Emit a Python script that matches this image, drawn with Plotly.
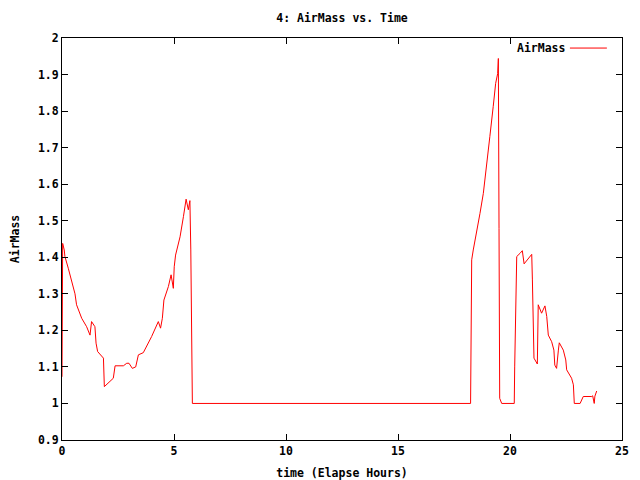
import plotly.graph_objects as go

time_hours = [0.0, 0.01, 0.03, 0.10, 0.13, 0.28, 0.43, 0.58, 0.65, 0.88, 1.10, 1.25, 1.32, 1.47, 1.52, 1.59,
              1.85, 1.87, 1.89, 2.29, 2.37, 2.74, 2.89, 2.99, 3.14, 3.29, 3.41, 3.63, 4.0, 4.30, 4.40, 4.48,
              4.55, 4.75, 4.87, 4.97, 5.01, 5.07, 5.27, 5.42, 5.54, 5.64, 5.71, 5.75, 5.79, 5.82,
              18.24, 18.25, 18.29, 18.36, 18.51, 18.66, 18.81, 18.96, 19.10, 19.25, 19.36, 19.45, 19.48,
              19.51, 19.54, 19.63, 20.19, 20.21, 20.25, 20.30, 20.45, 20.55, 20.63, 20.89, 20.97, 21.00,
              21.04, 21.07, 21.22, 21.23, 21.26, 21.41, 21.56, 21.64, 21.71, 21.86, 21.96, 22.00, 22.08,
              22.16, 22.20, 22.38, 22.49, 22.53, 22.75, 22.83, 22.87, 23.13, 23.27, 23.65, 23.69, 23.76,
              23.79, 23.87]

airmass = [1.073, 1.256, 1.438, 1.42, 1.402, 1.37, 1.338, 1.30, 1.27, 1.233, 1.21, 1.187, 1.224, 1.21, 1.165, 1.142,
           1.124, 1.087, 1.046, 1.069, 1.103, 1.103, 1.11, 1.11, 1.096, 1.10, 1.133, 1.139, 1.183, 1.224, 1.206, 1.233,
           1.283, 1.32, 1.352, 1.315, 1.374, 1.406, 1.456, 1.511, 1.559, 1.53, 1.555, 1.42, 1.137, 1.0,
           1.0, 1.192, 1.393, 1.42, 1.466, 1.52, 1.575, 1.648, 1.73, 1.812, 1.876, 1.903, 1.944,
           1.479, 1.014, 1.0, 1.0, 1.10, 1.297, 1.402, 1.411, 1.418, 1.382, 1.402, 1.408, 1.338,
           1.196, 1.124, 1.108, 1.192, 1.27, 1.247, 1.267, 1.238, 1.187, 1.169, 1.146, 1.105, 1.096,
           1.146, 1.166, 1.146, 1.119, 1.092, 1.069, 1.051, 1.0, 1.0, 1.019, 1.019, 1.021, 1.0,
           1.02, 1.034]

series_name = "AirMass"
title_text = "4: AirMass vs. Time"
x_title = "time (Elapse Hours)"
y_title = "AirMass"

FONT = dict(family="DejaVu Sans Mono", size=11.5, color="black", weight="bold")

fig = go.Figure()
fig.add_trace(go.Scatter(x=time_hours, y=airmass, mode="lines", name=series_name,
                         line=dict(color="#ff0000", width=1), showlegend=False))

axis_common = dict(showline=True, linecolor="black", linewidth=1, mirror="ticks",
                   ticks="inside", ticklen=6, tickcolor="black", showgrid=False,
                   zeroline=False, tickfont=FONT, automargin=False)

fig.update_layout(
    width=640, height=480,
    margin=dict(l=62, r=18, t=38, b=40),
    paper_bgcolor="white", plot_bgcolor="white",
    font=FONT,
    title=dict(text=title_text, x=0.5, xref="paper", xanchor="center", y=1 - 18 / 480,
               yanchor="middle", yref="container", font=FONT),
    xaxis=dict(range=[0, 25], dtick=5, tick0=0,
               title=dict(text=x_title, font=FONT), **axis_common),
    yaxis=dict(range=[0.9, 2], dtick=0.1, tick0=0.9,
               title=dict(text=y_title, font=FONT), **axis_common),
)

# gnuplot-style key: label then line sample, top right
fig.add_annotation(x=0.902, y=0.975, xref="paper", yref="paper", text=series_name,
                   showarrow=False, xanchor="right", yanchor="middle", font=FONT)
fig.add_shape(type="line", xref="paper", yref="paper", x0=0.907, x1=0.973, y0=0.975, y1=0.975,
              line=dict(color="#ff0000", width=1))

fig.write_html("out.html", config={"displayModeBar": False},
               post_script="document.body.style.margin='0';document.body.style.overflow='hidden';")
